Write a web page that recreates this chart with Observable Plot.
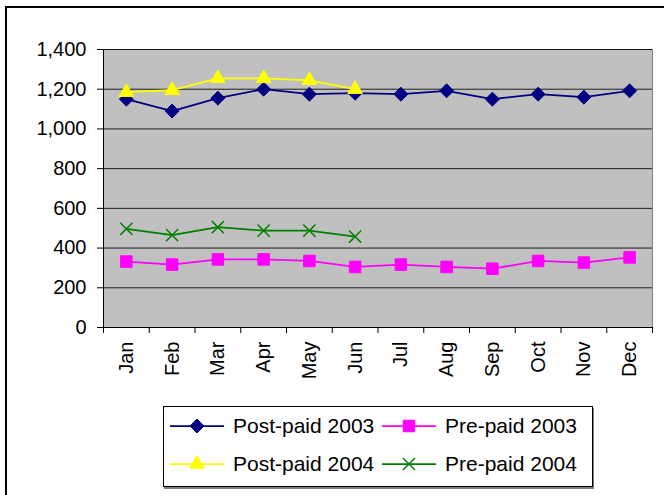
<!DOCTYPE html>
<html><head><meta charset="utf-8">
<script src="https://cdn.jsdelivr.net/npm/d3@7"></script>
<script src="https://cdn.jsdelivr.net/npm/@observablehq/plot@0.6"></script>
<style>
body{margin:0;background:#fff;font-family:"Liberation Sans",Arial,sans-serif;}
#wrap{position:relative;width:664px;height:495px;overflow:hidden;background:#fff;}
#border{position:absolute;left:5px;top:6px;width:800px;height:700px;border-left:2px solid #000;border-top:2px solid #000;}
#chart{position:absolute;left:0;top:0;}
#legend{position:absolute;left:163px;top:406px;width:428px;height:79px;border:1px solid #000;box-shadow:1px 2px 0 #808080;background:#fff;}
.item{position:absolute;height:24px;display:flex;align-items:center;font-size:21px;color:#000;white-space:nowrap;}
.item svg{margin-right:9px;}
</style></head><body>
<div id="wrap"><div id="border"></div><div id="chart"></div><div id="legend"></div></div>
<script>
const months = ["Jan","Feb","Mar","Apr","May","Jun","Jul","Aug","Sep","Oct","Nov","Dec"];
const postpaid2003 = [1150,1090,1155,1200,1175,1180,1175,1192,1150,1175,1160,1192];
const prepaid2003 = [332,317,343,343,335,305,317,305,296,335,327,353];
const postpaid2004 = [1185,1195,1255,1255,1245,1200];
const prepaid2004 = [497,465,505,488,488,458];
const yTicks = [0,200,400,600,800,1000,1200,1400];
const seriesNames = ["Post-paid 2003","Pre-paid 2003","Post-paid 2004","Pre-paid 2004"];
const seriesColors = ["#000080","#FF00FF","#FFFF00","#008000"];
const seriesSymbols = ["diamond2","square","triangle","times"];
const seriesR = [6.3,6.5,5.4,5.6];
const seriesValues = [postpaid2003, prepaid2003, postpaid2004, prepaid2004];

const rows = k => seriesValues[k].map((v,i)=>({i, month: months[i], value: v, series: seriesNames[k]}));

const marks = [
  Plot.frame({fill:"#C0C0C0", stroke:"#808080"}),
  Plot.gridY(yTicks, {stroke:"#000", strokeOpacity:0.85}),
  Plot.ruleY([0], {stroke:"#000"}),
  Plot.ruleX([-0.5], {stroke:"#000"}),
  Plot.axisY(yTicks, {tickFormat: d3.format(","), tickSize: 6, tickPadding: 11, fontSize: 20}),
  Plot.axisX(d3.range(13).map(i=>i-0.5), {tickSize: 6, tickFormat: () => ""}),
  Plot.axisX(d3.range(12), {tickSize: 0, tickPadding: 14, tickRotate: -90, tickFormat: i => months[i], fontSize: 20})
];
seriesNames.forEach((name,k)=>{
  const d = rows(k);
  marks.push(Plot.line(d, {x:"i", y:"value", stroke: seriesColors[k], strokeWidth: 1.75}));
  const sym = seriesSymbols[k];
  if (sym === "times") {
    marks.push(Plot.dot(d, {x:"i", y:"value", symbol: sym, r: seriesR[k], stroke: seriesColors[k], strokeWidth: 1.5}));
  } else {
    marks.push(Plot.dot(d, {x:"i", y:"value", symbol: sym, r: seriesR[k], fill: seriesColors[k], stroke: seriesColors[k], strokeWidth: 1}));
  }
});

const chart = Plot.plot({
  width: 664, height: 495,
  marginLeft: 103, marginRight: 12, marginTop: 49, marginBottom: 168,
  style: {fontFamily: '"Liberation Sans", Arial, sans-serif', fontSize: "20px", background: "transparent", color: "#000"},
  x: {type: "linear", domain: [-0.5, 11.5], label: null},
  y: {domain: [0, 1400], label: null},
  marks
});
document.getElementById("chart").appendChild(chart);

// legend
const legend = document.getElementById("legend");
const pos = [[6,7],[218,7],[6,45],[218,45]];
seriesNames.forEach((name,k)=>{
  const div = document.createElement("div");
  div.className = "item";
  div.style.left = pos[k][0]+"px";
  div.style.top = pos[k][1]+"px";
  const svg = d3.create("svg").attr("width",54).attr("height",24);
  svg.append("line").attr("x1",0).attr("x2",54).attr("y1",12).attr("y2",12).attr("stroke",seriesColors[k]).attr("stroke-width",1.75);
  const symMap = {diamond2: d3.symbolDiamond2, square: d3.symbolSquare, triangle: d3.symbolTriangle, times: d3.symbolTimes};
  const p = svg.append("path").attr("transform","translate(27,12)")
    .attr("d", d3.symbol(symMap[seriesSymbols[k]], Math.PI*seriesR[k]*seriesR[k])());
  if (seriesSymbols[k]==="times") p.attr("fill","none").attr("stroke",seriesColors[k]).attr("stroke-width",1.5);
  else p.attr("fill",seriesColors[k]).attr("stroke",seriesColors[k]);
  div.appendChild(svg.node());
  const span = document.createElement("span");
  span.textContent = name;
  div.appendChild(span);
  legend.appendChild(div);
});
</script>
</body></html>
